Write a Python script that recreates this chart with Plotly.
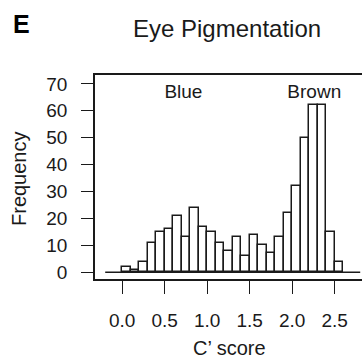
import plotly.graph_objects as go

# ---- data ----
bin_start = 0.0
bin_width = 0.1
counts = [2, 1, 4, 11, 15, 16, 21, 13, 24, 17, 15, 11, 8, 13, 6, 14, 10, 7, 13, 22, 32, 50, 62, 62, 15, 4]
x_tick_vals = [0.0, 0.5, 1.0, 1.5, 2.0, 2.5]
x_tick_text = ["0.0", "0.5", "1.0", "1.5", "2.0", "2.5"]
y_tick_vals = [0, 10, 20, 30, 40, 50, 60, 70]
xlim = [-0.2, 2.8]
group_labels = ["Blue", "Brown"]
group_label_x = [0.72, 2.26]
group_label_y = [66.5, 66.5]

title_text = "Eye Pigmentation"
panel_letter = "E"
x_title = "C\u2019 score"
y_title = "Frequency"

centers = [bin_start + bin_width * (i + 0.5) for i in range(len(counts))]

FONT = "Liberation Sans, Arial, Helvetica, sans-serif"
INK = "#1a1a1a"

W, H = 362, 360
L, R, T, B = 95, 0, 75, 81

fig = go.Figure()
fig.add_trace(go.Bar(
    x=centers, y=counts, width=bin_width,
    marker=dict(color="white", line=dict(color=INK, width=1.5)),
    showlegend=False, hoverinfo="x+y",
))
# baseline along xlim at y = 0
fig.add_trace(go.Scatter(
    x=xlim, y=[0, 0], mode="lines",
    line=dict(color=INK, width=1.7), showlegend=False, hoverinfo="skip",
))
# group labels
fig.add_trace(go.Scatter(
    x=group_label_x, y=group_label_y, mode="text", text=group_labels,
    textfont=dict(family=FONT, size=19, color=INK),
    textposition="middle center", showlegend=False, hoverinfo="skip",
))

pad = 0.04 * (xlim[1] - xlim[0])
x_left = xlim[0] - pad
plot_w = W - L - R
plot_h = H - T - B
px_per_unit = 85.0
x_right = x_left + plot_w / px_per_unit

fig.update_layout(
    width=W, height=H,
    margin=dict(l=L, r=R, t=T, b=B, pad=0, autoexpand=False),
    paper_bgcolor="white", plot_bgcolor="white",
    bargap=0,
    font=dict(family=FONT, size=19, color=INK),
    xaxis=dict(
        range=[x_left, x_right], tickvals=x_tick_vals, ticktext=x_tick_text,
        ticks="outside", ticklen=13, tickwidth=1.4, tickcolor=INK,
        showline=True, mirror=True, linecolor=INK, linewidth=1.6,
        showgrid=False, zeroline=False, ticklabelstandoff=10,
        automargin=False,
        tickfont=dict(family=FONT, size=19, color=INK),
    ),
    yaxis=dict(
        range=[-2.5, 73.3], tickvals=y_tick_vals,
        ticks="outside", ticklen=12, tickwidth=1.4, tickcolor=INK,
        showline=True, linecolor=INK, linewidth=1.6,
        showgrid=False, zeroline=False, ticklabelstandoff=10,
        automargin=False,
        tickfont=dict(family=FONT, size=19, color=INK),
    ),
    annotations=[
        dict(text=title_text, xref="paper", yref="paper",
             x=(226.5 - L) / plot_w, y=1 + (T - 29) / plot_h,
             xanchor="center", yanchor="middle", showarrow=False,
             font=dict(family=FONT, size=24, color=INK)),
        dict(text="<b>" + panel_letter + "</b>", xref="paper", yref="paper",
             x=(21.5 - L) / plot_w, y=1 + (T - 24) / plot_h,
             xanchor="center", yanchor="middle", showarrow=False,
             font=dict(family=FONT, size=25, color="black")),
        dict(text=x_title, xref="paper", yref="paper",
             x=(229 - L) / plot_w, y=-(348 - (H - B)) / plot_h,
             xanchor="center", yanchor="middle", showarrow=False,
             font=dict(family=FONT, size=20, color=INK)),
        dict(text=y_title, xref="paper", yref="paper", textangle=-90,
             x=(18.5 - L) / plot_w, y=1 - (178.5 - T) / plot_h,
             xanchor="center", yanchor="middle", showarrow=False,
             font=dict(family=FONT, size=20, color=INK)),
    ],
)

fig.write_html(
    "out.html",
    config={"displayModeBar": False},
    post_script="document.body.style.margin='0';document.body.style.overflow='hidden';",
)
